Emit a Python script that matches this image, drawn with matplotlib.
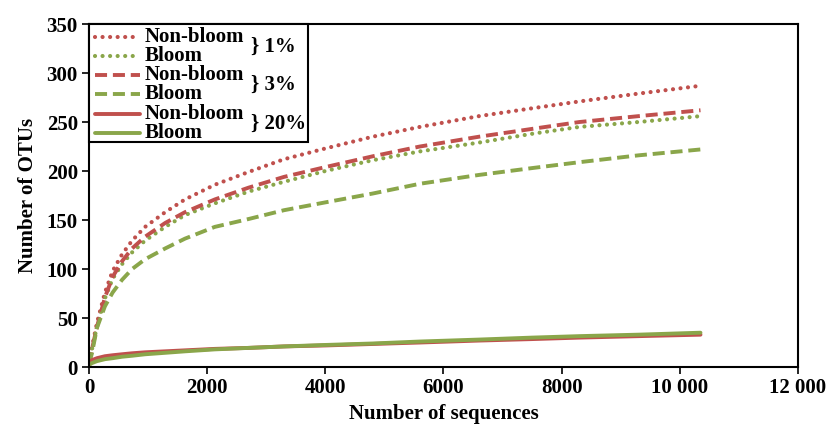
import matplotlib.pyplot as plt
from matplotlib.patches import Rectangle
from matplotlib.ticker import FuncFormatter

plt.rcParams['font.family'] = ['Liberation Serif', 'DejaVu Serif']
plt.rcParams['font.weight'] = 'bold'

RED = '#c0504d'
GREEN = '#8aa64a'

# rarefaction curves, sampled along the number of sequences
seqs = [0, 50, 135, 270, 400, 560, 730, 950, 1290, 1625, 2130, 2700,
        3300, 4000, 4800, 5600, 6600, 7500, 8300, 9300, 10350]

nonbloom_1 = [4, 20, 45, 76, 98, 115, 129, 143, 158, 171, 186, 199,
              212, 223, 235, 245, 256, 264, 271, 279, 287]
bloom_1 = [4, 18, 41, 70, 90, 105, 117, 129, 143, 155, 167, 179,
           189, 200, 211, 220, 229, 238, 245, 250, 256]
nonbloom_3 = [3, 18, 41, 71, 92, 108, 121, 133, 147, 158, 171, 183,
              194, 204, 215, 225, 235, 243, 250, 256, 262]
bloom_3 = [3, 14, 40, 62, 76, 89, 100, 110, 121, 131, 143, 151,
           160, 168, 177, 187, 196, 203, 209, 216, 222]
nonbloom_20 = [3, 7, 9, 11, 12, 13, 14, 15, 16, 17, 18.5, 19.5,
               21, 22, 23.5, 25, 27, 28.5, 30, 31.5, 33]
bloom_20 = [2, 4, 6, 8, 9, 10.5, 11.5, 13, 14.5, 16, 18, 19.5,
            21, 22.5, 24, 26, 28, 30, 31.5, 33, 35]

labels = ['Non-bloom', 'Bloom'] * 3
cutoffs = ['1%', '3%', '20%']

DOT = (0, (0.01, 1.8))
DASH = (0, (3.1, 1.5))

series = [
    (nonbloom_1, RED, DOT, 3.0),
    (bloom_1, GREEN, DOT, 3.0),
    (nonbloom_3, RED, DASH, 2.8),
    (bloom_3, GREEN, DASH, 2.8),
    (nonbloom_20, RED, '-', 2.8),
    (bloom_20, GREEN, '-', 2.8),
]

fig = plt.figure(figsize=(8.27, 4.29), dpi=100)
ax = fig.add_axes([0.1076, 0.1445, 0.8573, 0.7995])

for vals, color, ls, lw in series:
    ax.plot(seqs, vals, color=color, linestyle=ls, linewidth=lw,
            dash_capstyle='round' if ls == DOT else 'butt',
            solid_capstyle='round')

ax.set_xlim(0, 12000)
ax.set_ylim(0, 350)
ax.set_xticks(range(0, 12001, 2000))
ax.set_yticks(range(0, 351, 50))
ax.xaxis.set_major_formatter(FuncFormatter(
    lambda v, p: f'{int(v):,}'.replace(',', ' ') if v >= 10000 else f'{int(v)}'))
ax.tick_params(direction='out', length=5, width=1.2, labelsize=15, pad=3)
for s in ax.spines.values():
    s.set_linewidth(1.5)

ax.set_xlabel('Number of sequences', fontsize=15, fontweight='bold', labelpad=4)
ax.set_ylabel('Number of OTUs', fontsize=15, fontweight='bold', labelpad=6)

# hand-built legend: box, six keys, and braces grouping each cutoff
ax.add_patch(Rectangle((0, 0.656), 0.309, 0.344, transform=ax.transAxes,
                       facecolor='white', edgecolor='black', linewidth=1.5,
                       zorder=5, clip_on=False))
row_y = [0.962, 0.907, 0.851, 0.796, 0.738, 0.682]
for (vals, color, ls, lw), lab, y in zip(series, labels, row_y):
    ax.plot([0.009, 0.072], [y, y], transform=ax.transAxes, color=color,
            linestyle=ls, linewidth=lw, zorder=6, clip_on=False,
            dash_capstyle='round' if ls == DOT else 'butt',
            solid_capstyle='round')
    ax.text(0.079, y, lab, transform=ax.transAxes, fontsize=15,
            fontweight='bold', va='center', ha='left', zorder=7)

for i, cut in enumerate(cutoffs):
    y = (row_y[2 * i] + row_y[2 * i + 1]) / 2
    ax.text(0.229, y, '} ' + cut, transform=ax.transAxes, fontsize=15,
            fontweight='bold', va='center', ha='left', zorder=7)

fig.savefig('out.png', dpi=100)
